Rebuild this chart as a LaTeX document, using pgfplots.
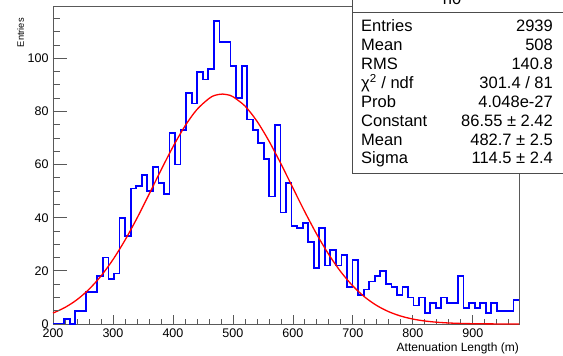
\documentclass[border=0pt]{standalone}
\usepackage{fontspec}
\setmainfont{Liberation Sans}
\usepackage{pgfplots}
\pgfplotsset{compat=1.18}
\usepackage{pgfplotstable}

\pgfplotstableread{
x y
200 0
209.25 0
218.5 2
227.75 0
237 5
246.25 5
255.5 12
264.75 12
274 18
283.25 25
292.5 17
301.75 19
311 40
320.25 33
329.5 51
338.75 52
348 56
357.25 50
366.5 59
375.75 53
385 49
394.25 72
403.5 60
412.75 73
422 87
431.25 83
440.5 95
449.75 92
459 96
468.25 114
477.5 106
486.75 106
496 97
505.25 85
514.5 97
523.75 77
533 73
542.25 68
551.5 62
560.75 48
570 75
579.25 42
588.5 53
597.75 37
607 36
616.25 38
625.5 31
634.75 21
644 36
653.25 22
662.5 28
671.75 22
681 26
690.25 14
699.5 24
708.75 11
718 13
727.25 16
736.5 18
745.75 20
755 15
764.25 14
773.5 11
782.75 14
792 10
801.25 7
810.5 10
819.75 4
829 8
838.25 6
847.5 10
856.75 8
866 8
875.25 18
884.5 6
893.75 8
903 6
912.25 8
921.5 4
930.75 8
940 5
949.25 5
958.5 5
967.75 9
977 9
}\histdata

\pgfplotstableread{
x y
200 4.107
220 6.226
240 9.155
260 13.056
280 18.061
300 24.234
320 31.536
340 39.810
360 48.742
380 57.888
400 66.679
420 74.500
440 80.736
460 84.866
470 86.08
482.7 86.55
495 86.08
500 85.568
520 82.077
540 76.363
560 68.912
580 60.319
600 51.213
620 42.172
640 33.684
660 26.097
680 19.611
700 14.295
720 10.106
740 6.930
760 4.609
780 2.974
800 1.860
820 1.129
840 0.665
860 0.380
880 0.210
900 0.113
920 0.059
940 0.030
960 0.015
977 0.008
}\fitdata

\begin{document}
\begin{tikzpicture}[x=1pt,y=1pt]
\useasboundingbox (0,0) rectangle (563,356);
% main axis: frame, x ticks, data
\begin{axis}[
  at={(53pt,32pt)}, anchor=south west,
  scale only axis, width=466pt, height=318pt,
  xmin=200, xmax=977, ymin=0, ymax=119.7,
  clip=false,
  axis line style={black!65, line width=0.8pt},
  tick align=inside,
  xtick={200,300,...,900},
  minor xtick={220,240,...,960},
  ytick=\empty,
  xtick pos=bottom,
  major tick length=9pt, minor tick length=4.5pt,
  tick style={black!65, line width=0.8pt},
  /pgf/number format/assume math mode=true,
  x tick label style={font=\fontsize{12.5}{12.5}\selectfont, yshift=-1pt},
]
\addplot[blue, line width=1.8pt, const plot] table[x=x,y=y] {\histdata};
\addplot[red, line width=1.3pt, smooth] table[x=x,y=y] {\fitdata};
\end{axis}
% overlay axis: y ticks (longer ticks)
\begin{axis}[
  at={(53pt,32pt)}, anchor=south west,
  scale only axis, width=466pt, height=318pt,
  xmin=200, xmax=977, ymin=0, ymax=119.7,
  axis line style={draw=none},
  tick align=inside,
  xtick=\empty,
  ytick={0,20,...,100},
  minor ytick={5,10,...,115},
  ytick pos=left,
  major tick length=13.5pt, minor tick length=7pt,
  tick style={black!65, line width=0.8pt},
  /pgf/number format/assume math mode=true,
  y tick label style={font=\fontsize{12.5}{12.5}\selectfont, xshift=-1pt},
]
\end{axis}
% axis titles
\node[anchor=base east, font=\fontsize{12}{12}\selectfont, inner sep=0pt] at (519,4) {Attenuation Length (m)};
\node[anchor=east, rotate=90, font=\fontsize{9.3}{9.3}\selectfont, inner sep=0pt] at (20.5,338) {Entries};
% statistics box
\draw[fill=white, draw=black!70, line width=0.8pt] (352,183) rectangle (600,380);
\draw[black!70, line width=0.8pt] (352,344) -- (600,344);
\node[anchor=base, font=\fontsize{16.5}{16.5}\selectfont, inner sep=0pt] at (452,351) {h0};
\begin{scope}[every node/.style={font=\fontsize{16.5}{16.5}\selectfont, inner sep=0pt}]
\node[anchor=base west] at (361,324.0) {Entries};
\node[anchor=base east] at (553,324.0) {2939};
\node[anchor=base west] at (361,305.15) {Mean};
\node[anchor=base east] at (553,305.15) {508};
\node[anchor=base west] at (361,286.3) {RMS};
\node[anchor=base east] at (553,286.3) {140.8};
\node[anchor=base west] at (361,267.45) {χ\textsuperscript{2} / ndf};
\node[anchor=base east] at (553,267.45) {301.4 / 81};
\node[anchor=base west] at (361,248.6) {Prob};
\node[anchor=base east] at (553,248.6) {4.048e-27};
\node[anchor=base west] at (361,229.75) {Constant};
\node[anchor=base east] at (553,229.75) {86.55 ± 2.42};
\node[anchor=base west] at (361,210.9) {Mean};
\node[anchor=base east] at (553,210.9) {482.7 ± 2.5};
\node[anchor=base west] at (361,192.05) {Sigma};
\node[anchor=base east] at (553,192.05) {114.5 ± 2.4};
\end{scope}
\end{tikzpicture}
\end{document}
